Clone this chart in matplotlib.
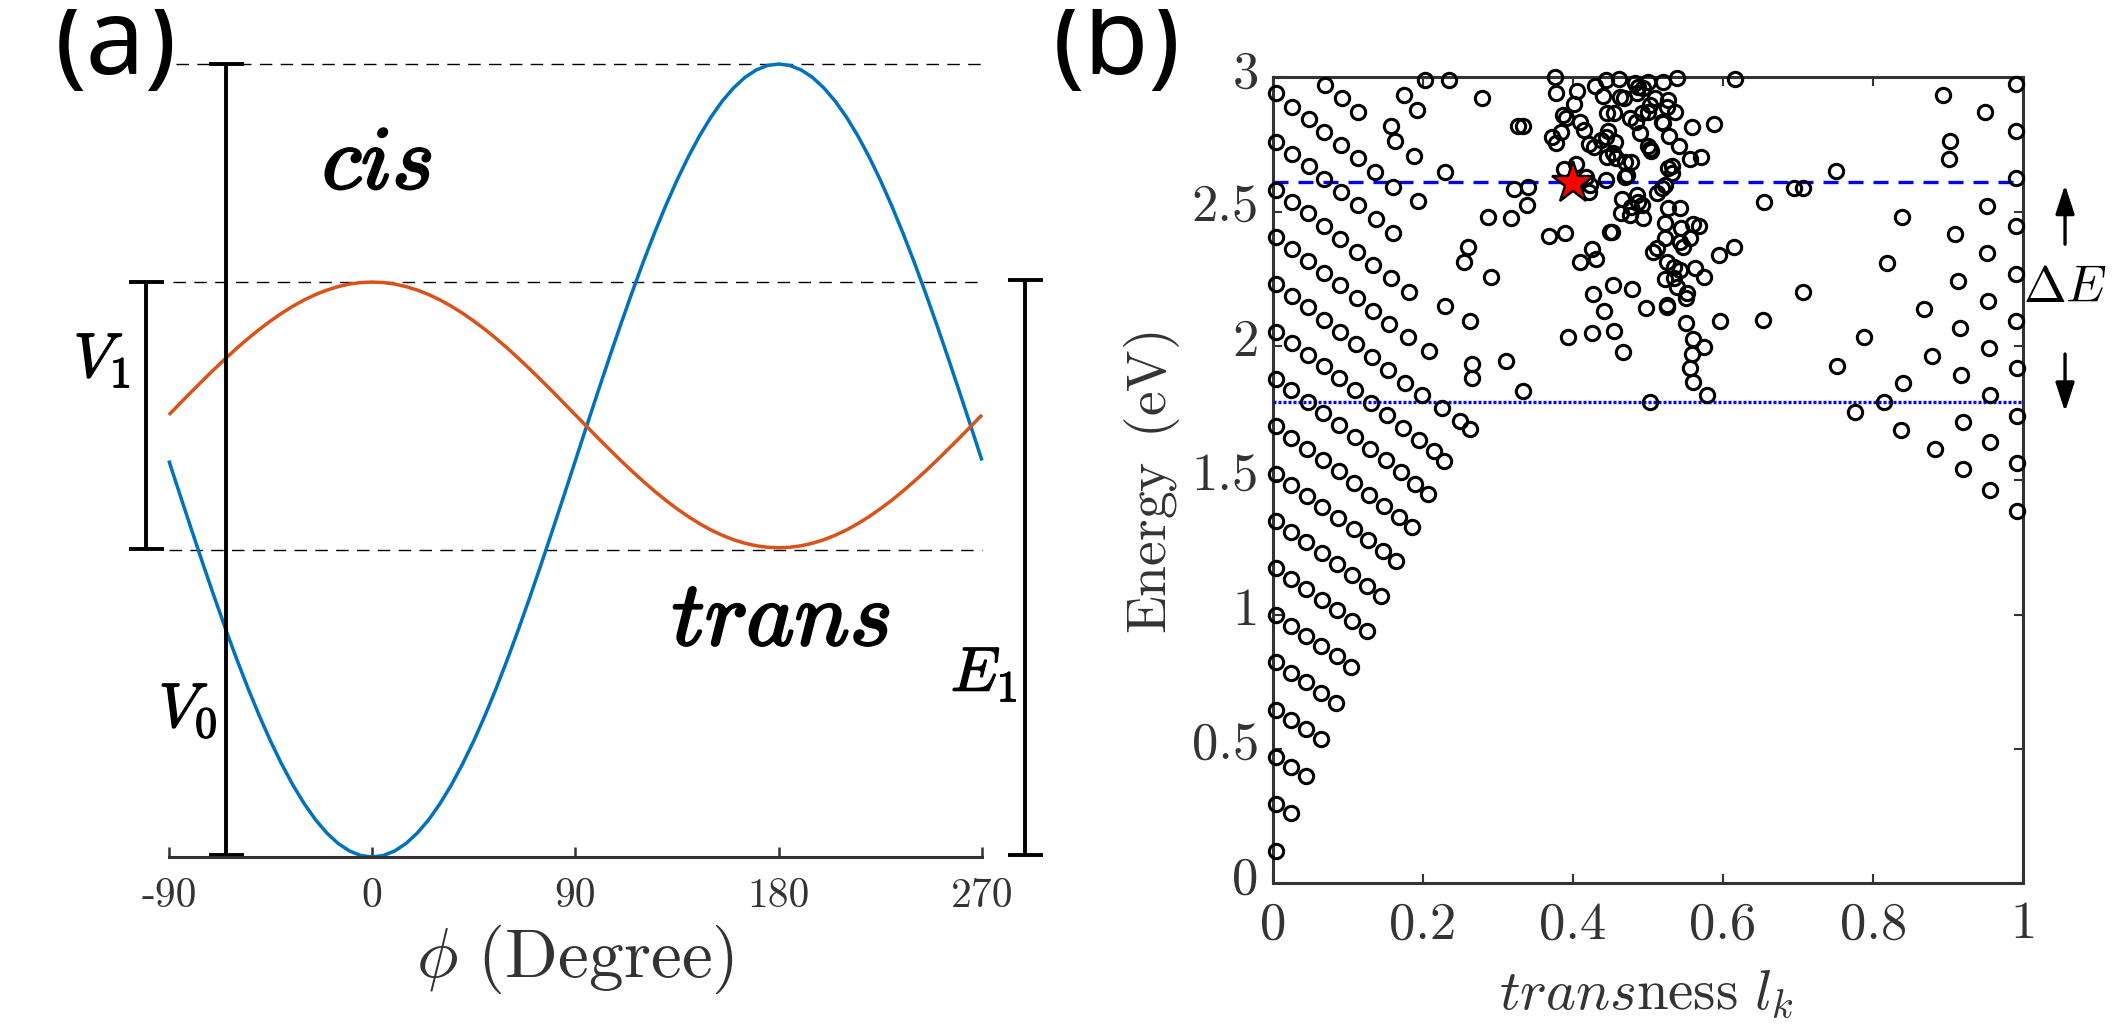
import matplotlib
matplotlib.use("Agg")
import matplotlib.pyplot as plt
import matplotlib.patheffects as pe
from matplotlib.transforms import Bbox, ScaledTranslation

W, H = 2118, 1031
plt.rcParams['mathtext.fontset'] = 'cm'
plt.rcParams['font.family'] = ['Noto Sans', 'DejaVu Sans']

# ---------- panel (a) data ----------
phi_deg = [-90, -85, -80, -75, -70, -65, -60, -55, -50, -45, -40, -35, -30, -25, -20, -15, -10, -5,
           0, 5, 10, 15, 20, 25, 30, 35, 40, 45, 50, 55, 60, 65, 70, 75, 80, 85,
           90, 95, 100, 105, 110, 115, 120, 125, 130, 135, 140, 145, 150, 155, 160, 165, 170, 175,
           180, 185, 190, 195, 200, 205, 210, 215, 220, 225, 230, 235, 240, 245, 250, 255, 260, 265, 270]
blue_curve = [.5, .4564, .4132, .3706, .329, .2887, .25, .2132, .1786, .1464, .117, .0904, .067, .0468, .0302, .017, .0076, .0019,
              0, .0019, .0076, .017, .0302, .0468, .067, .0904, .117, .1464, .1786, .2132, .25, .2887, .329, .3706, .4132, .4564,
              .5, .5436, .5868, .6294, .671, .7113, .75, .7868, .8214, .8536, .883, .9096, .933, .9532, .9698, .983, .9924, .9981,
              1, .9981, .9924, .983, .9698, .9532, .933, .9096, .883, .8536, .8214, .7868, .75, .7113, .671, .6294, .5868, .5436, .5]
orange_curve = [.5575, .5721, .5866, .6008, .6148, .6283, .6413, .6536, .6652, .6759, .6858, .6947, .7026, .7093, .7149, .7193, .7225, .7244,
                .725, .7244, .7225, .7193, .7149, .7093, .7026, .6947, .6858, .6759, .6652, .6536, .6413, .6283, .6148, .6008, .5866, .5721,
                .5575, .5429, .5284, .5142, .5002, .4867, .4738, .4614, .4498, .4391, .4292, .4203, .4124, .4057, .4001, .3957, .3925, .3906,
                .39, .3906, .3925, .3957, .4001, .4057, .4124, .4203, .4292, .4391, .4498, .4614, .4738, .4867, .5002, .5142, .5284, .5429, .5575]
phi_ticks = [-90, 0, 90, 180, 270]
phi_labels = ['-90', '0', '90', '180', '270']
guide_levels = [1.0, 0.725, 0.387]

# ---------- panel (b) data ----------
transness = [
 .070, .092, .114,
 .004, .026, .048, .069, .091, .114, .136, .160, .193,
 .004, .026, .048, .069, .091, .114, .138, .160,
 .004, .026, .047, .069, .090, .112, .134, .157, .182,
 .004, .026, .047, .068, .090, .112, .133, .155, .180, .208,
 .004, .026, .047, .068, .089, .111, .132, .154, .176, .199, .225, .249, .263,
 .004, .026, .047, .068, .088, .110, .131, .152, .174, .195, .215, .228,
 .004, .025, .047, .067, .088, .109, .130, .151, .171, .190, .207,
 .004, .025, .046, .067, .088, .108, .128, .148, .168, .185,
 .004, .025, .046, .066, .087, .108, .127, .147, .164,
 .004, .025, .045, .066, .086, .106, .126, .144,
 .004, .025, .045, .066, .086, .105, .125,
 .004, .024, .045, .065, .085, .104,
 .004, .024, .045, .065, .084,
 .004, .024, .044, .064,
 .004, .024, .044,
 .004, .024,
 .004,
 .203, .235, .175, .192, .157, .163, .188, .230, .229,
 .376, .378, .406, .401, .429, .444, .440, .462, .463, .468, .483, .487, .485, .500, .493, .520, .539, .616,
 .446, .455, .387, .391, .409, .415, .384, .372, .377, .476, .484, .492, .500, .509, .503, .527, .525, .536,
 .518, .520, .559, .588, .489, .528, .541, .447, .438, .444, .456, .421, .428, .500, .504, .502, .445, .454,
 .458, .469, .478, .556, .571, .404, .388, .417, .532, .526, .532, .469, .444, .472, .523, .518, .512, .423,
 .421, .322, .340, .695, .707, .465, .486, .487, .492, .478, .464, .476, .494, .527, .543, .654, .339, .287,
 .318, .522, .544, .560, .568, .523, .556, .543, .547, .449, .452, .368, .389, .425, .431, .409, .512, .506,
 .615, .595, .525, .534, .543, .563, .523, .534, .574, .539, .552, .550, .454, .479, .427, .707, .525, .525,
 .441, .498, .551, .596, .653, .426, .455, .393, .560, .575, .467, .558, .556, .560, .503, .578, .260, .255,
 .291, .263, .265, .265, .311, .333, .279, .327, .333,
 .990, .990, .990, .990, .990, .990, .893, .949, .903, .901, .751, .951, .838, .909, .952, .818, .913, .953,
 .868, .916, .788, .954,
 .752, .878, .917, .991, .840, .955, .815, .776, .991, .919, .837, .955, .882, .991, .920, .956, .991,
]
energy = [
 2.973, 2.923, 2.872,
 2.943, 2.891, 2.844, 2.797, 2.747, 2.699, 2.646, 2.593, 2.538,
 2.761, 2.713, 2.669, 2.623, 2.573, 2.526, 2.474, 2.422,
 2.581, 2.537, 2.494, 2.445, 2.400, 2.351, 2.302, 2.252, 2.200,
 2.406, 2.361, 2.318, 2.272, 2.226, 2.180, 2.130, 2.081, 2.032, 1.980,
 2.230, 2.185, 2.144, 2.098, 2.053, 2.007, 1.959, 1.911, 1.864, 1.816, 1.769, 1.722, 1.691,
 2.053, 2.010, 1.965, 1.926, 1.880, 1.835, 1.789, 1.742, 1.696, 1.651, 1.609, 1.573,
 1.877, 1.835, 1.793, 1.752, 1.707, 1.663, 1.618, 1.574, 1.531, 1.488, 1.450,
 1.701, 1.659, 1.618, 1.577, 1.535, 1.490, 1.447, 1.406, 1.365, 1.328,
 1.524, 1.484, 1.443, 1.402, 1.361, 1.319, 1.278, 1.237, 1.199,
 1.349, 1.308, 1.269, 1.230, 1.189, 1.148, 1.108, 1.069,
 1.172, 1.133, 1.094, 1.055, 1.016, .978, .939,
 .997, .959, .922, .883, .845, .806,
 .823, .784, .748, .710, .672,
 .646, .609, .573, .536,
 .471, .434, .398,
 .295, .261,
 .120,
 2.991, 2.989, 2.935, 2.878, 2.819, 2.764, 2.708, 2.649, 2.148,
 3.000, 2.943, 2.948, 2.902, 2.968, 2.990, 2.931, 2.994, 2.926, 2.922, 2.978, 2.965, 2.940, 2.984, 2.959, 2.984, 2.998, 2.994,
 2.868, 2.866, 2.860, 2.847, 2.835, 2.804, 2.798, 2.779, 2.754, 2.847, 2.835, 2.866, 2.872, 2.922, 2.897, 2.916, 2.891, 2.872,
 2.835, 2.829, 2.816, 2.826, 2.792, 2.783, 2.744, 2.801, 2.767, 2.777, 2.761, 2.752, 2.739, 2.744, 2.727, 2.732, 2.705, 2.720,
 2.699, 2.686, 2.686, 2.695, 2.703, 2.677, 2.658, 2.630, 2.668, 2.661, 2.643, 2.628, 2.618, 2.637, 2.599, 2.587, 2.568, 2.599,
 2.574, 2.584, 2.593, 2.589, 2.589, 2.547, 2.562, 2.537, 2.525, 2.519, 2.494, 2.488, 2.478, 2.512, 2.515, 2.535, 2.525, 2.481,
 2.475, 2.458, 2.438, 2.454, 2.447, 2.403, 2.401, 2.388, 2.367, 2.426, 2.424, 2.411, 2.421, 2.360, 2.325, 2.313, 2.364, 2.349,
 2.367, 2.339, 2.314, 2.295, 2.283, 2.289, 2.248, 2.252, 2.256, 2.218, 2.199, 2.177, 2.227, 2.213, 2.194, 2.202, 2.153, 2.145,
 2.130, 2.143, 2.084, 2.094, 2.097, 2.047, 2.056, 2.035, 2.025, 1.998, 1.976, 1.970, 1.917, 1.867, 1.793, 1.818, 2.370, 2.314,
 2.258, 2.093, 1.932, 1.880, 1.943, 1.834, 2.922, 2.819, 2.819,
 2.976, 2.799, 2.624, 2.447, 2.269, 2.093, 2.934, 2.870, 2.762, 2.695, 2.650, 2.521, 2.479, 2.416, 2.345, 2.309, 2.242, 2.169,
 2.138, 2.067, 2.034, 1.993,
 1.927, 1.964, 1.892, 1.917, 1.861, 1.818, 1.792, 1.753, 1.741, 1.717, 1.686, 1.641, 1.615, 1.563, 1.541, 1.464, 1.386,
]
star_point = (0.4005, 2.605)
upper_level = 2.609
lower_level = 1.79
x_ticks_b = [0, .2, .4, .6, .8, 1]
x_labels_b = ['0', '0.2', '0.4', '0.6', '0.8', '1']
y_ticks_b = [0, .5, 1, 1.5, 2, 2.5, 3]
y_labels_b = ['0', '0.5', '1', '1.5', '2', '2.5', '3']

DARK = '#333333'
BLUE = '#0072BD'
ORANGE = '#D95319'


def axes_px(fig, l, t, r, b):
    return fig.add_axes([l / W, 1 - b / H, (r - l) / W, (b - t) / H])


fig = plt.figure(figsize=(W / 100, H / 100), dpi=100)
fig.patch.set_facecolor('white')

# ---------- panel (a) ----------
ax = axes_px(fig, 168.8, 64.0, 982, 857.0)
ax.set_xlim(-90, 270)
ax.set_ylim(0, 1)
for s in ('top', 'left', 'right'):
    ax.spines[s].set_visible(False)
ax.spines['bottom'].set_linewidth(2.2)
ax.spines['bottom'].set_color(DARK)
ax.patch.set_alpha(0)
ax.set_yticks([])
ax.set_xticks(phi_ticks, labels=phi_labels, fontfamily='cmr10', fontsize=30, color=DARK)
ax.tick_params(axis='x', direction='in', length=7, width=1.8, color=DARK, pad=15)

for lev, x0 in zip(guide_levels, (-87, -88, -90)):
    ax.plot([x0, 270], [lev, lev], color='black', lw=1.0, dashes=(9, 6), clip_on=False)
ax.plot(phi_deg, blue_curve, color=BLUE, lw=2.5, clip_on=False, solid_capstyle='butt')
ax.plot(phi_deg, orange_curve, color=ORANGE, lw=2.5, clip_on=False, solid_capstyle='butt')

# dimension bars
bar_kw = dict(color='black', lw=2.8, clip_on=False, solid_capstyle='butt')
for xb, y0, y1 in [(-64.6, 0.002, 1.0), (-99.9, 0.389, 0.725), (289.1, 0.002, 0.727)]:
    ax.plot([xb, xb], [y0, y1], **bar_kw)
    ax.plot([xb - 7.8, xb + 7.8], [y0, y0], **bar_kw)
    ax.plot([xb - 7.8, xb + 7.8], [y1, y1], **bar_kw)


def ftext(xp, yp, s, size, stroke=0, color='black', **kw):
    t = fig.text(xp / W, 1 - yp / H, s, fontsize=size, color=color, ha='center', va='center', **kw)
    if stroke:
        t.set_path_effects([pe.withStroke(linewidth=stroke, foreground=color)])
    return t


ftext(377, 166, r'$cis$', 65, stroke=1.8)
ftext(781, 621, r'$trans$', 66, stroke=1.8)
ftext(102, 361, r'$V_1$', 45, stroke=1.0)
ftext(188, 711, r'$V_0$', 45, stroke=1.0)
ftext(984, 675, r'$E_1$', 45, stroke=1.0)
ftext(575, 959, r'$\phi\ \mathrm{(Degree)}$', 50, color=DARK)

# panel letters, cut off at top and bottom like in the source image
for xp, s in [(116, '(a)'), (1117, '(b)')]:
    t = fig.text(xp / W, 1 - 74 / H, s, fontsize=76, color='black', ha='center', va='baseline')
    t.set_clip_box(Bbox([[0, H - 92], [W, H - 9]]))
    t.set_clip_on(True)

# ---------- panel (b) ----------
bx = axes_px(fig, 1272.7, 77.3, 2023.3, 883.3)
bx.set_xlim(0, 1)
bx.set_ylim(0, 3)
for s in bx.spines.values():
    s.set_linewidth(2.2)
    s.set_color(DARK)
bx.set_xticks(x_ticks_b, labels=x_labels_b, fontfamily='cmr10', fontsize=38, color=DARK)
bx.set_yticks(y_ticks_b, labels=y_labels_b, fontfamily='cmr10', fontsize=38, color=DARK)
bx.tick_params(axis='both', direction='in', length=6.5, width=1.5, color=DARK, top=True, right=True)
bx.tick_params(axis='x', pad=13)
bx.tick_params(axis='y', pad=10)
lift = ScaledTranslation(0, 0.08, fig.dpi_scale_trans)
for lab in bx.get_yticklabels():
    lab.set_transform(lab.get_transform() + lift)

bx.plot([0, 1], [upper_level, upper_level], color='#0000FF', lw=2.4, dashes=(4.5, 3.0), zorder=3)
bx.plot([0, 1], [lower_level, lower_level], color='#0000FF', lw=2.4, dashes=(0.9, 0.6), zorder=3)
bx.plot(transness, energy, 'o', mfc='none', mec='black', ms=10.3, mew=2.2, clip_on=False, zorder=4)
bx.plot([star_point[0]], [star_point[1]], '*', mfc='#FF0000', mec='black', ms=32, mew=1.7, clip_on=False, zorder=5)

ftext(1152, 482.5, r'$\mathrm{Energy\ \,(eV)}$', 40, color=DARK, rotation=90)
ftext(1646, 994, r'$trans\mathrm{ness}\ l_k$', 41, color=DARK)
ftext(2065, 288, r'$\Delta E$', 37)

arrow_kw = dict(arrowstyle='-|>,head_length=0.8,head_width=0.26', color='black', lw=2.4,
                shrinkA=0, shrinkB=0, mutation_scale=22)
bx.annotate('', xy=(1.0556, 2.60), xytext=(1.0556, 2.379), arrowprops=arrow_kw, annotation_clip=False)
bx.annotate('', xy=(1.0556, 1.755), xytext=(1.0556, 1.970), arrowprops=arrow_kw, annotation_clip=False)

fig.savefig('out.png', dpi=100)
